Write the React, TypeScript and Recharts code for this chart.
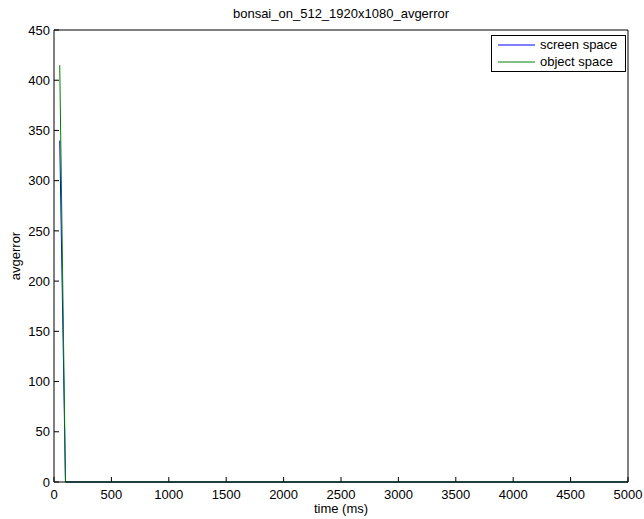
import React from "react";
import { LineChart, Line, XAxis, YAxis, Legend, Label } from "recharts";

const times = [50, 100, 200, 500, 1000, 1500, 2000, 2500, 3000, 3500, 4000, 4500, 5000];
const screenSpace = [340, 0, 0, 0, 0, 0, 0, 0, 0, 0, 0, 0, 0];
const objectSpace = [415, 0, 0, 0, 0, 0, 0, 0, 0, 0, 0, 0, 0];

const xTicks = [0, 500, 1000, 1500, 2000, 2500, 3000, 3500, 4000, 4500, 5000];
const yTicks = [0, 50, 100, 150, 200, 250, 300, 350, 400, 450];

const seriesNames = ["screen space", "object space"];

const FONT = "'Liberation Sans', Arial, Helvetica, sans-serif";

const data = times.map((t, i) => ({ time: t, screen: screenSpace[i], object: objectSpace[i] }));

const tickStyle = { fill: "#000", fontSize: 13, fontFamily: FONT };

const MatlabLegend = ({ payload }: any) => {
  const items = seriesNames
    .map((n) => (payload || []).find((p: any) => p.value === n))
    .filter(Boolean);
  return (
    <div
      style={{
        width: 135,
        height: 37,
        boxSizing: "border-box",
        border: "1px solid #000",
        background: "#fff",
        paddingTop: 1,
        paddingLeft: 6,
        fontFamily: FONT,
        fontSize: 13,
        color: "#000",
      }}
    >
      {items.map((entry: any) => (
        <div key={entry.value} style={{ display: "flex", alignItems: "center", height: 16.4 }}>
          <svg width={37} height={4} style={{ display: "block" }}>
            <line x1={0} y1={2} x2={37} y2={2} stroke={entry.color} strokeWidth={1} />
          </svg>
          <span style={{ marginLeft: 5, lineHeight: "16px" }}>{entry.value}</span>
        </div>
      ))}
    </div>
  );
};

export default function App() {
  return (
    <div style={{ position: "absolute", left: 0, top: 0, background: "#fff" }}>
      <LineChart
        width={644}
        height={519}
        data={data}
        margin={{ top: 29, right: 15, bottom: 0, left: 0 }}
      >
        <XAxis
          dataKey="time"
          type="number"
          domain={[0, 5000]}
          ticks={xTicks}
          height={37}
          tickSize={-5}
          tickMargin={13}
          tick={tickStyle}
          stroke="#000"
          tickLine={{ stroke: "#000" }}
          axisLine={{ stroke: "#000" }}
        >
          <Label
            content={() => (
              <text x={341} y={513} textAnchor="middle" fontSize={13} fontFamily={FONT} fill="#000">
                time (ms)
              </text>
            )}
          />
        </XAxis>
        <XAxis
          xAxisId="top"
          orientation="top"
          dataKey="time"
          type="number"
          domain={[0, 5000]}
          ticks={xTicks}
          height={1}
          tickSize={-5}
          tick={false}
          stroke="#000"
          tickLine={{ stroke: "#000" }}
          axisLine={{ stroke: "#000" }}
        >
          <Label
            content={() => (
              <text x={341} y={18} textAnchor="middle" fontSize={13} fontFamily={FONT} fill="#000">
                bonsai_on_512_1920x1080_avgerror
              </text>
            )}
          />
        </XAxis>
        <YAxis
          type="number"
          domain={[0, 450]}
          ticks={yTicks}
          width={54}
          tickSize={-5}
          tickMargin={9}
          tick={tickStyle}
          stroke="#000"
          tickLine={{ stroke: "#000" }}
          axisLine={{ stroke: "#000" }}
        >
          <Label
            content={() => (
              <text
                x={20}
                y={256}
                transform="rotate(-90 20 256)"
                textAnchor="middle"
                fontSize={13}
                fontFamily={FONT}
                fill="#000"
              >
                avgerror
              </text>
            )}
          />
        </YAxis>
        <YAxis
          yAxisId="right"
          orientation="right"
          type="number"
          domain={[0, 450]}
          ticks={yTicks}
          width={1}
          tickSize={-5}
          tick={false}
          stroke="#000"
          tickLine={{ stroke: "#000" }}
          axisLine={{ stroke: "#000" }}
        />
        <Legend
          layout="vertical"
          align="center"
          verticalAlign="middle"
          content={<MatlabLegend />}
          wrapperStyle={{ left: 491, top: 35, width: 135, height: 37 }}
        />
        <Line
          type="linear"
          dataKey="screen"
          name="screen space"
          stroke="#0000ff"
          strokeWidth={1}
          dot={false}
          isAnimationActive={false}
        />
        <Line
          type="linear"
          dataKey="object"
          name="object space"
          stroke="#008000"
          strokeWidth={1}
          dot={false}
          isAnimationActive={false}
        />
        {/* invisible series so the top and right box axes get drawn */}
        <Line
          xAxisId="top"
          yAxisId="right"
          dataKey="object"
          stroke="none"
          legendType="none"
          dot={false}
          activeDot={false}
          isAnimationActive={false}
        />
      </LineChart>
    </div>
  );
}
